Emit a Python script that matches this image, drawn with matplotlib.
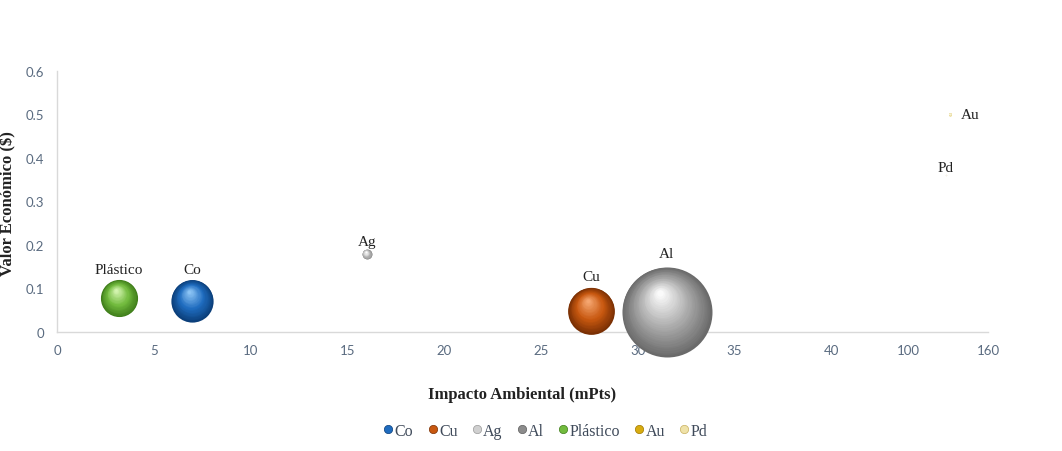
import matplotlib.pyplot as plt
import matplotlib.transforms as mtransforms
from matplotlib.lines import Line2D
from matplotlib.colors import to_rgb
import numpy as np

# datos
materiales = ['Co', 'Cu', 'Ag', 'Al', 'Plástico', 'Au', 'Pd']
impacto = [7.0, 27.6, 16.0, 31.5, 3.2, 131, 128]          # mPts
valor = [0.072, 0.049, 0.179, 0.046, 0.078, 0.50, 0.36]   # $
tamano = [22, 27, 1.2, 100, 17, 0.08, 0.02]               # tamaño de burbuja

xticks = [0, 5, 10, 15, 20, 25, 30, 35, 40, 100, 160]
yticks = [0, 0.1, 0.2, 0.3, 0.4, 0.5, 0.6]

# colores (oscuro, base, brillo)
colores = {
    'Co': ('#0b3f7a', '#1f6cbf', '#8cc4f5'),
    'Cu': ('#7a3004', '#c85810', '#f5a670'),
    'Ag': ('#8a8a8a', '#c4c4c4', '#ffffff'),
    'Al': ('#6a6a6a', '#a8a8a8', '#fafafa'),
    'Plástico': ('#3f7d1a', '#72bb3e', '#d4f5b0'),
    'Au': ('#e8d890', '#f3eac0', '#fffbe8'),
    'Pd': ('#f0e8c8', '#f8f2dc', '#ffffff'),
}
leyenda_col = {
    'Co': ('#0b3f7a', '#1f6cbf'), 'Cu': ('#7a3004', '#c85810'), 'Ag': ('#9a9a9a', '#d0d0d0'),
    'Al': ('#5e5e5e', '#8c8c8c'), 'Plástico': ('#3f7d1a', '#72bb3e'),
    'Au': ('#a07800', '#d8ac10'), 'Pd': ('#c8b060', '#efe2a8'),
}

# eje x partido: 0-40 lineal, luego 100 y 160 comprimidos
xa = [0, 40, 100, 160]
xb = [0, 40, 44.0, 48.1]
def fwd(x):
    return np.interp(x, xa, xb)
def inv(x):
    return np.interp(x, xb, xa)

fig = plt.figure(figsize=(10.62, 4.52), dpi=100)
ax = fig.add_axes([57/1062, 1-333/452, (988-57)/1062, (333-72)/452])
ax.set_xscale('function', functions=(fwd, inv))
ax.set_xlim(0, 160)
ax.set_ylim(0, 0.6)

R_AL = 45.0  # radio en px de la burbuja mayor
def blend(c1, c2, t):
    a = np.array(to_rgb(c1)); b = np.array(to_rgb(c2))
    return tuple(a + (b - a) * t)

for m, x, y, t in zip(materiales, impacto, valor, tamano):
    r = R_AL * np.sqrt(t / 100.0)   # px
    dark, base, light = colores[m]
    n = 30
    for i in range(n):
        k = i / (n - 1)
        rr = r * (1 - 0.93 * k)
        if k < 0.45:
            col = blend(dark, base, k / 0.45)
        else:
            col = blend(base, light, (k - 0.45) / 0.55)
        dx = -0.15 * r * k * 0.72
        dy = 0.42 * r * k * 0.72
        tr = mtransforms.offset_copy(ax.transData, fig=fig, x=dx, y=dy, units='points')
        ax.scatter([x], [y], s=(2 * rr * 0.72) ** 2, color=col, lw=0, transform=tr,
                   zorder=3 + i * 0.01, clip_on=False)
    if m == 'Au':
        ax.annotate(m, (x, y), xytext=(8, 0), textcoords='offset points', ha='left',
                    va='center', fontsize=11, family='Liberation Serif', color='#222222')
    else:
        off = (r * 1.15 + 7) * 0.72
        ax.annotate(m, (x, y), xytext=(0, off), textcoords='offset points', ha='center',
                    va='center', fontsize=11, family='Liberation Serif', color='#222222')

ax.set_xticks(xticks)
ax.set_xticklabels([str(v) for v in xticks])
ax.set_yticks(yticks)
ax.set_yticklabels(['0', '0.1', '0.2', '0.3', '0.4', '0.5', '0.6'])
ax.minorticks_off()
ax.tick_params(length=0, labelsize=9.5, colors='#5a6b80')
ax.tick_params(axis='x', pad=9)
ax.tick_params(axis='y', pad=9)
for lab in ax.get_xticklabels() + ax.get_yticklabels():
    lab.set_family('Lato')
for s in ['top', 'right']:
    ax.spines[s].set_visible(False)
for s in ['left', 'bottom']:
    ax.spines[s].set_color('#d9d9d9')
    ax.spines[s].set_linewidth(1)

fig.text(522/1062, 1-395/452, 'Impacto Ambiental (mPts)', ha='center', va='center',
         fontsize=12, fontweight='bold', family='Liberation Serif', color='#222222')
fig.text(8/1062, 1-204/452, 'Valor Económico ($)', ha='center', va='center', rotation=90,
         fontsize=12, fontweight='bold', family='Liberation Serif', color='#222222')

handles = [Line2D([0], [0], marker='o', ls='none', markersize=6,
                  markerfacecolor=leyenda_col[m][1], markeredgecolor=leyenda_col[m][0],
                  markeredgewidth=0.5)
           for m in materiales]
leg = fig.legend(handles, materiales, loc='center', bbox_to_anchor=(544/1062, 20/452), ncol=7,
                 frameon=False, handletextpad=-0.1, columnspacing=0.7, handlelength=1.0,
                 prop={'family': 'Liberation Serif', 'size': 11.5})
for t in leg.get_texts():
    t.set_color('#3f4a5a')

fig.savefig('out.png', dpi=100)
